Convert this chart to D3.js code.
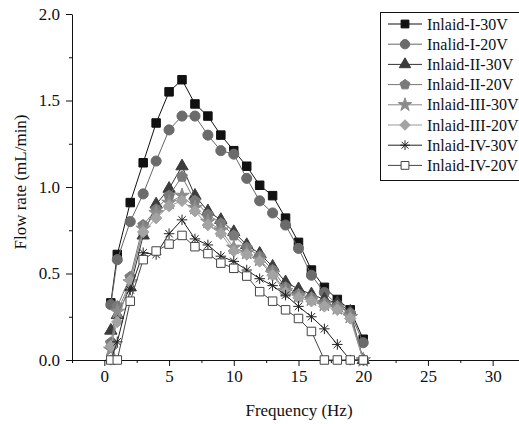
<!DOCTYPE html>
<html>
<head>
<meta charset="utf-8">
<script src="https://cdn.jsdelivr.net/npm/d3@7"></script>
<style>
  body { margin: 0; background: #fff; }
  svg text { font-family: "Liberation Serif", "Times New Roman", Times, serif; }
</style>
</head>
<body>
<div id="chart"></div>
<script>
// data
const freq = [0.5, 1, 2, 3, 4, 5, 6, 7, 8, 9, 10, 11, 12, 13, 14, 15, 16, 17, 18, 19, 20];

const inlaidI30 = [0.33, 0.61, 0.91, 1.14, 1.37, 1.55, 1.62, 1.48, 1.41, 1.30, 1.21, 1.12, 1.01, 0.95, 0.82, 0.68, 0.52, 0.42, 0.35, 0.29, 0.12];
const inlaidI20 = [0.32, 0.58, 0.80, 0.96, 1.15, 1.33, 1.41, 1.41, 1.30, 1.21, 1.19, 1.05, 0.92, 0.85, 0.78, 0.645, 0.49, 0.39, 0.32, 0.27, 0.10];
const inlaidII30 = [0.17, 0.26, 0.42, 0.72, 0.90, 0.99, 1.12, 0.95, 0.86, 0.81, 0.74, 0.665, 0.615, 0.54, 0.45, 0.41, 0.38, 0.35, 0.33, 0.28, 0.0];
const inlaidII20 = [0.10, 0.31, 0.48, 0.78, 0.87, 0.95, 1.06, 0.92, 0.84, 0.79, 0.72, 0.65, 0.60, 0.52, 0.42, 0.38, 0.36, 0.33, 0.31, 0.27, 0.0];
const inlaidIII30 = [0.06, 0.28, 0.45, 0.76, 0.85, 0.91, 0.95, 0.88, 0.80, 0.75, 0.65, 0.62, 0.58, 0.50, 0.40, 0.37, 0.35, 0.32, 0.30, 0.25, 0.0];
const inlaidIII20 = [0.08, 0.22, 0.46, 0.74, 0.82, 0.89, 0.92, 0.86, 0.78, 0.73, 0.63, 0.61, 0.57, 0.49, 0.39, 0.36, 0.34, 0.31, 0.29, 0.24, 0.0];
const inlaidIV30 = [0.0, 0.105, 0.405, 0.62, 0.61, 0.73, 0.81, 0.70, 0.665, 0.60, 0.57, 0.52, 0.47, 0.43, 0.375, 0.31, 0.25, 0.18, 0.09, 0.0, 0.0];
const inlaidIV20 = [0.0, 0.0, 0.34, 0.58, 0.63, 0.67, 0.72, 0.655, 0.615, 0.56, 0.53, 0.485, 0.395, 0.34, 0.29, 0.24, 0.165, 0.0, 0.0, 0.0, 0.0];

const seriesNames = ['Inlaid-I-30V', 'Inalid-I-20V', 'Inlaid-II-30V', 'Inlaid-II-20V',
                     'Inlaid-III-30V', 'Inlaid-III-20V', 'Inlaid-IV-30V', 'Inlaid-IV-20V'];
const seriesValues = [inlaidI30, inlaidI20, inlaidII30, inlaidII20, inlaidIII30, inlaidIII20, inlaidIV30, inlaidIV20];

const xTicks = [0, 5, 10, 15, 20, 25, 30];
const yTicks = [0, 0.5, 1.0, 1.5, 2.0];

const FONT = '"Liberation Serif", "Times New Roman", Times, serif';

// custom marker shapes
const pentagon = {
    draw(ctx, size) {
        const r = Math.sqrt(size / 2.38);
        for (let i = 0; i < 5; i++) {
            const a = -Math.PI / 2 + i * 2 * Math.PI / 5;
            i ? ctx.lineTo(r * Math.cos(a), r * Math.sin(a)) : ctx.moveTo(r * Math.cos(a), r * Math.sin(a));
        }
        ctx.closePath();
    }
};
const diamond = {
    draw(ctx, size) {
        const r = Math.sqrt(size / 2);
        ctx.moveTo(0, -r); ctx.lineTo(r, 0); ctx.lineTo(0, r); ctx.lineTo(-r, 0); ctx.closePath();
    }
};
const asterisk = {
    draw(ctx, size) {
        const r = Math.sqrt(size) / 2;
        for (let i = 0; i < 4; i++) {
            const a = i * Math.PI / 4;
            ctx.moveTo(-r * Math.cos(a), -r * Math.sin(a));
            ctx.lineTo(r * Math.cos(a), r * Math.sin(a));
        }
    }
};

// per series style
const styles = [
    {shape: d3.symbolSquare,   size: 72, fill: '#111',    stroke: '#111', line: '#111'},
    {shape: d3.symbolCircle,   size: 80, fill: '#6b6b6b', stroke: '#6b6b6b', line: '#666'},
    {shape: d3.symbolTriangle, size: 66, fill: '#3c3c3c', stroke: '#3c3c3c', line: '#333'},
    {shape: pentagon,          size: 76, fill: '#7a7a7a', stroke: '#7a7a7a', line: '#777'},
    {shape: d3.symbolStar,     size: 66, fill: '#8c8c8c', stroke: '#8c8c8c', line: '#888'},
    {shape: diamond,           size: 66, fill: '#a3a3a3', stroke: '#a3a3a3', line: '#999'},
    {shape: asterisk,          size: 110, fill: 'none',   stroke: '#222', line: '#222'},
    {shape: d3.symbolSquare,   size: 72, fill: '#fff',    stroke: '#444', line: '#444'}
];

const width = 519, height = 424;

const svg = d3.select('#chart').append('svg')
    .attr('width', width)
    .attr('height', height);

const x = d3.scaleLinear().domain([-2.5, 32.5]).range([72, 525]);
const y = d3.scaleLinear().domain([0, 2]).range([360, 14]);

// axes: major + minor ticks
svg.append('g').attr('transform', 'translate(0,360)')
    .call(d3.axisBottom(x).tickValues(xTicks).tickSize(6).tickSizeOuter(0).tickPadding(4).tickFormat(d3.format('d')));
svg.append('g').attr('transform', 'translate(0,360)')
    .call(d3.axisBottom(x).tickValues(d3.range(-2.5, 33, 5)).tickSize(3).tickFormat(''))
    .select('.domain').remove();

svg.append('g').attr('transform', 'translate(72,0)')
    .call(d3.axisLeft(y).tickValues(yTicks).tickSize(6).tickSizeOuter(0).tickPadding(6).tickFormat(d3.format('.1f')));
svg.append('g').attr('transform', 'translate(72,0)')
    .call(d3.axisLeft(y).tickValues([0.25, 0.75, 1.25, 1.75]).tickSize(3).tickFormat(''))
    .select('.domain').remove();

svg.selectAll('g').attr('font-family', FONT);
svg.selectAll('.tick text')
    .attr('font-size', 17)
    .attr('fill', '#111');
svg.selectAll('.domain, .tick line').attr('stroke', '#111');

// axis titles
svg.append('text')
    .attr('x', 299).attr('y', 416)
    .attr('text-anchor', 'middle')
    .attr('font-size', 17)
    .attr('fill', '#111')
    .text('Frequency (Hz)');

svg.append('text')
    .attr('transform', 'translate(26,182) rotate(-90)')
    .attr('text-anchor', 'middle')
    .attr('font-size', 17)
    .attr('fill', '#111')
    .text('Flow rate (mL/min)');

// series
const line = d3.line()
    .x(d => x(d[0]))
    .y(d => y(d[1]));

seriesValues.forEach((vals, i) => {
    const st = styles[i];
    const pts = freq.map((f, j) => [f, vals[j]]);
    const g = svg.append('g');
    g.append('path')
        .datum(pts)
        .attr('fill', 'none')
        .attr('stroke', st.line)
        .attr('stroke-width', 1)
        .attr('d', line);
    g.selectAll('path.pt')
        .data(pts)
        .join('path')
        .attr('class', 'pt')
        .attr('transform', d => `translate(${x(d[0])},${y(d[1])})`)
        .attr('d', d3.symbol(st.shape, st.size))
        .attr('fill', st.fill)
        .attr('stroke', st.stroke)
        .attr('stroke-width', 1);
});

// legend
const legend = svg.append('g');
legend.append('rect')
    .attr('x', 380.5).attr('y', 12.5)
    .attr('width', 160).attr('height', 168)
    .attr('fill', '#fff')
    .attr('stroke', '#111');

seriesNames.forEach((name, i) => {
    const st = styles[i];
    const ly = 24 + i * 20.2;
    const row = legend.append('g').attr('transform', `translate(0,${ly})`);
    row.append('line')
        .attr('x1', 388).attr('x2', 422)
        .attr('stroke', st.line).attr('stroke-width', 1);
    row.append('path')
        .attr('transform', 'translate(405,0)')
        .attr('d', d3.symbol(st.shape, st.size * 0.85))
        .attr('fill', st.fill)
        .attr('stroke', st.stroke);
    row.append('text')
        .attr('x', 427).attr('y', 5.5)
        .attr('font-size', 16)
        .attr('font-family', FONT)
        .attr('fill', '#111')
        .text(name);
});
</script>
</body>
</html>
